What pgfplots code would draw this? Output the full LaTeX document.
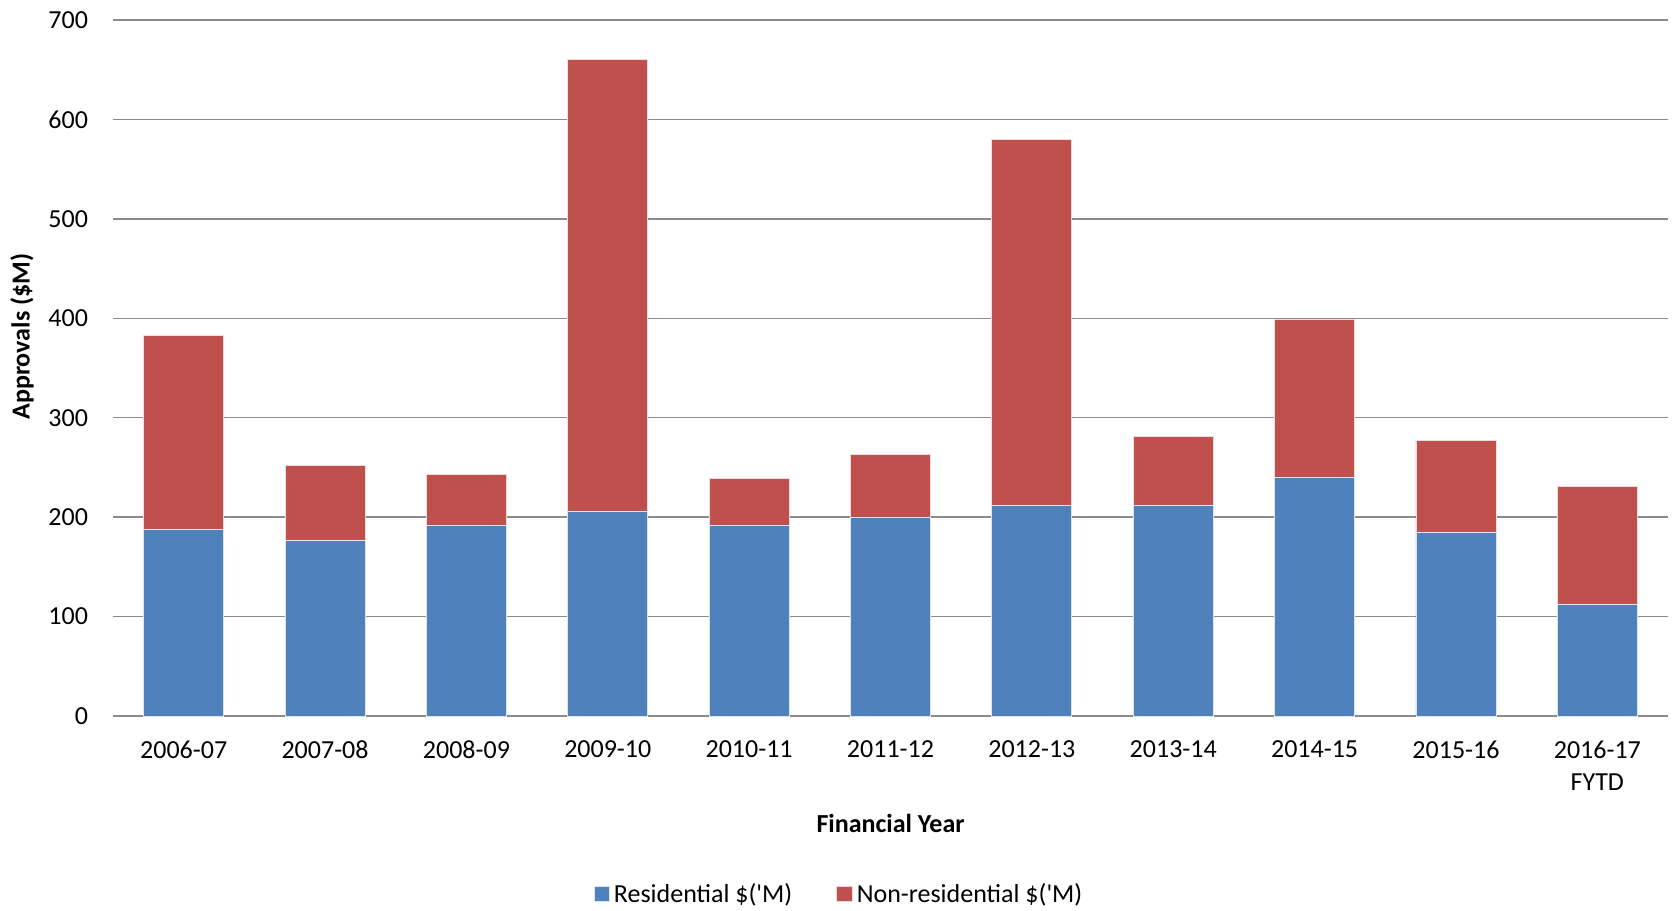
\documentclass[border=0pt]{standalone}
\usepackage{pgfplots}
\pgfplotsset{compat=1.18}
\usepackage{fontspec}
\setmainfont{Carlito}[Ligatures=TeXOff]
\definecolor{resblue}{HTML}{4F81BD}
\definecolor{nonred}{HTML}{C0504D}
\definecolor{gridgray}{HTML}{8C8C8C}

\begin{document}
\fontsize{13}{16}\selectfont
\begin{tikzpicture}
\useasboundingbox (-56.5pt,-97pt) rectangle (780.5pt,358pt);
\begin{axis}[
  scale only axis, width=777.5pt, height=348pt,
  ybar stacked, bar width=40pt,
  xmin=-0.5, xmax=10.5, ymin=0, ymax=700,
  xtick=data,
  xticklabels={2006-07,2007-08,2008-09,2009-10,2010-11,2011-12,2012-13,2013-14,2014-15,2015-16,{2016-17\\FYTD}},
  ytick distance=100,
  major tick length=0pt,
  ymajorgrids, grid style={gridgray, line width=0.75pt},
  axis x line*=bottom, axis y line*=left,
  x axis line style={gridgray, line width=0.75pt, -},
  y axis line style={draw=none},
  /pgf/number format/assume math mode=true,
  yticklabel style={xshift=-8pt},
  xticklabel style={yshift=-8pt, align=center},
  xlabel={\textbf{Financial Year}},
  xlabel style={at={(axis description cs:0.5,-0.154)}, anchor=center},
  ylabel={\textbf{Approvals (\$M)}},
  ylabel style={at={(axis description cs:-0.0585,0.545)}, anchor=center, rotate=0},
  legend style={at={(axis description cs:0.4675,-0.257)}, anchor=center, draw=none,
    legend columns=2, /tikz/every even column/.append style={column sep=20pt},
    /tikz/every odd column/.append style={column sep=0pt}},
  legend image code/.code={\fill[#1] (0pt,-3.4pt) rectangle (7.8pt,4.4pt);},
]
\addplot[fill=resblue, draw=white!80!resblue, line width=0.4pt] coordinates {
(0,188) (1,177) (2,192) (3,206) (4,192) (5,200) (6,212) (7,212) (8,240) (9,185) (10,112)};
\addplot[fill=nonred, draw=white!80!nonred, line width=0.4pt] coordinates {
(0,195) (1,75) (2,51) (3,454) (4,47) (5,63) (6,368) (7,69) (8,159) (9,92) (10,119)};
\legend{Residential \$('M), Non-residential \$('M)}
\end{axis}
\end{tikzpicture}
\end{document}
